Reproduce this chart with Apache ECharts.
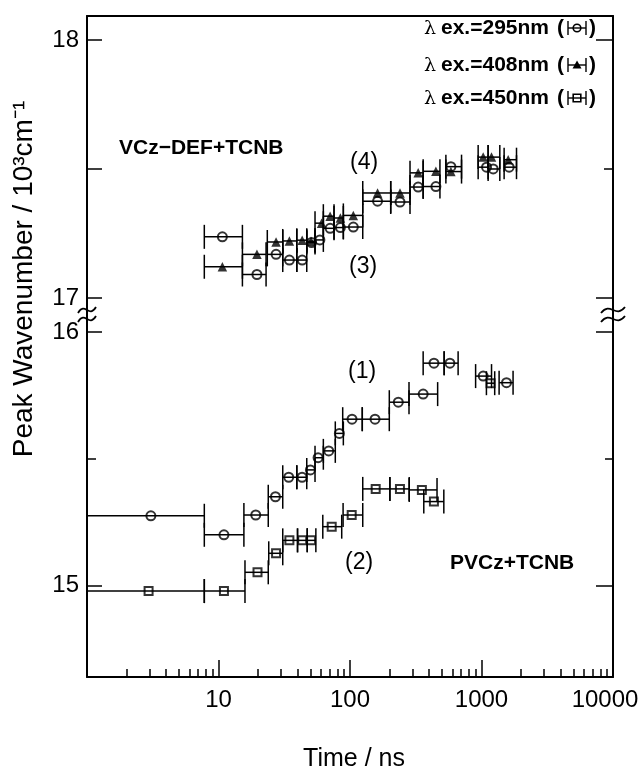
<!DOCTYPE html>
<html><head><meta charset="utf-8">
<script src="https://cdn.jsdelivr.net/npm/echarts@6/dist/echarts.min.js"></script>
<style>html,body{margin:0;padding:0;background:#fff}#c{width:643px;height:769px}</style>
</head><body><div id="c"></div>
<script>
// ---- Data ----
// (1) PVCz+TCNB, λex = 295 nm (circles)
const s1Time     = [3.06, 11.0, 19.2, 27.1, 34.2, 43.2, 50.0, 57.2, 68.9, 83.0, 103.6, 155, 233, 360, 435, 575, 1030, 1549];
const s1Value    = [15.275, 15.200, 15.278, 15.350, 15.427, 15.427, 15.456, 15.504, 15.531, 15.600, 15.656, 15.656, 15.723, 15.755, 15.877, 15.877, 15.826, 15.800];
const s1WinStart = [1, 7.8, 15.6, 23.9, 30.8, 39.4, 46.9, 54.2, 62.7, 77.3, 88, 124, 199, 281, 360, 520, 902, 1361];
const s1WinEnd   = [7.8, 15.6, 23.9, 30.8, 39.4, 46.9, 54.2, 62.7, 77.3, 89, 124, 199, 281, 464, 520, 664, 1192, 1738];
// (2) PVCz+TCNB, λex = 450 nm (squares)
const s2Time     = [2.94, 11.0, 19.8, 27.4, 34.6, 43.3, 50.6, 72.6, 103, 156.8, 239.8, 352, 434.7, 1172];
const s2Value    = [14.978, 14.978, 15.052, 15.127, 15.178, 15.178, 15.178, 15.232, 15.278, 15.381, 15.381, 15.377, 15.331, 15.798];
const s2WinStart = [1, 7.8, 15.9, 24.1, 30.8, 39.9, 47.3, 62.1, 88.6, 125, 201, 282, 364, 1090];
const s2WinEnd   = [7.8, 15.9, 23.9, 30.8, 39.9, 47.3, 55.0, 86.5, 125, 201, 282, 459, 517, 1260];
// (3) VCz-DEF+TCNB, λex = 295 nm (circles)
const s3Time     = [10.7, 19.6, 27.4, 34.6, 43.3, 51, 59, 70.6, 84.5, 106, 162, 240, 330, 450, 585, 1092, 1227, 1623];
const s3Value    = [17.237, 17.091, 17.169, 17.147, 17.147, 17.215, 17.225, 17.270, 17.273, 17.275, 17.375, 17.372, 17.430, 17.432, 17.509, 17.507, 17.500, 17.507];
const s3WinStart = [7.8, 15.2, 23.5, 30.8, 39.4, 46.9, 54.2, 62.7, 75.6, 89, 125, 204, 286, 360, 536, 943, 1123, 1486];
const s3WinEnd   = [15.2, 23.0, 30.8, 39.4, 46.9, 54.2, 62.7, 75.6, 89, 125, 204, 286, 360, 483, 705, 1123, 1378, 1846];
// (4) VCz-DEF+TCNB, λex = 408 nm (triangles)
const s4Time     = [10.7, 19.6, 27.4, 34.6, 43.3, 50.5, 60.8, 70.6, 84.5, 106, 162, 240, 330, 450, 585, 1030, 1192, 1595];
const s4Value    = [17.121, 17.169, 17.217, 17.221, 17.224, 17.22, 17.29, 17.317, 17.31, 17.32, 17.407, 17.407, 17.485, 17.491, 17.49, 17.546, 17.546, 17.536];
const s4WinStart = [7.8, 15.2, 23.5, 30.8, 39.4, 46.9, 54.2, 62.7, 75.6, 89, 125, 204, 286, 360, 536, 943, 1123, 1486];
const s4WinEnd   = [15.2, 23.0, 30.8, 39.4, 46.9, 54.2, 62.7, 75.6, 89, 125, 204, 286, 360, 483, 705, 1123, 1378, 1846];

// ---- Axis ticks / labels ----
const xMajorTicks = [1, 10, 100, 1000, 10000];
const xMinorTicks = [2,3,4,5,6,7,8,9, 20,30,40,50,60,70,80,90, 200,300,400,500,600,700,800,900, 2000,3000,4000,5000,6000,7000,8000,9000];
const xTickLabels = [10, 100, 1000, 10000];
const yUpperTicks = [17, 17.5, 18];
const yUpperLabels = [17, 18];
const yLowerMajor = [15, 16];
const yLowerMinor = [15.5];
const legendTexts = ['ex.=295nm', 'ex.=408nm', 'ex.=450nm'];

const FONT = 'Liberation Sans, Arial, sans-serif';
const BLACK = '#000';

const chart = echarts.init(document.getElementById('c'), null, {renderer: 'canvas'});

function winRender(params, api) {
  const s = api.coord([api.value(0), api.value(2)]);
  const e = api.coord([api.value(1), api.value(2)]);
  const h = 12;
  const st = {stroke: BLACK, lineWidth: 1.5};
  return {type: 'group', children: [
    {type: 'line', shape: {x1: s[0], y1: s[1], x2: e[0], y2: e[1]}, style: st},
    {type: 'line', shape: {x1: s[0], y1: s[1] - h, x2: s[0], y2: s[1] + h}, style: st},
    {type: 'line', shape: {x1: e[0], y1: e[1] - h, x2: e[0], y2: e[1] + h}, style: st}
  ]};
}
function winSeries(xi, yi, st, en, val) {
  return {type: 'custom', xAxisIndex: xi, yAxisIndex: yi, renderItem: winRender, silent: true,
    encode: {x: [0, 1], y: 2}, data: val.map((v, i) => [st[i], en[i], v]), z: 2};
}
function markSeries(xi, yi, time, val, symbol, filled, size) {
  return {type: 'scatter', xAxisIndex: xi, yAxisIndex: yi, symbol: symbol, symbolSize: size, silent: true,
    itemStyle: filled ? {color: BLACK} : {color: 'rgba(0,0,0,0)', borderColor: BLACK, borderWidth: 2},
    data: time.map((t, i) => [t, val[i]]), z: 3};
}

const axLine = {show: true, onZero: false, lineStyle: {color: BLACK, width: 2}};
const tickStyle = {color: BLACK, width: 1.5};
const upperMin = 16.934, upperMax = 18.093, lowerMin = 14.639, lowerMax = 16.067;

function yAx(grid, pos, min, max, ticks, len, labels, showLine) {
  return {gridIndex: grid, type: 'value', position: pos, min: min, max: max,
    axisLine: showLine ? axLine : {show: false, onZero: false},
    axisTick: {show: true, inside: true, length: len, customValues: ticks, lineStyle: tickStyle},
    axisLabel: labels ? {show: true, customValues: labels, fontSize: 24, fontFamily: FONT, color: BLACK, margin: 8} : {show: false},
    splitLine: {show: false}};
}

const option = {
  animation: false,
  backgroundColor: '#fff',
  grid: [
    {left: 87, right: 30, top: 16, height: 299, outerBoundsMode: 'none', containLabel: false},
    {left: 87, right: 30, top: 315, bottom: 92, outerBoundsMode: 'none', containLabel: false}
  ],
  xAxis: [
    {gridIndex: 0, type: 'log', logBase: 10, min: 1, max: 10000, position: 'top', axisLine: axLine,
      axisTick: {show: false}, axisLabel: {show: false}, splitLine: {show: false}},
    {gridIndex: 1, type: 'log', logBase: 10, min: 1, max: 10000, position: 'bottom', axisLine: axLine,
      axisTick: {show: true, inside: true, length: 17, customValues: xMajorTicks, lineStyle: tickStyle},
      axisLabel: {show: true, customValues: xTickLabels, fontSize: 24, fontFamily: FONT, color: BLACK, margin: 11,
        formatter: v => (Math.round(v) === 10000 ? '{last|10000}' : String(Math.round(v))),
        rich: {last: {fontSize: 24, fontFamily: FONT, color: BLACK, padding: [0, 16, 0, 0]}}},
      splitLine: {show: false},
      name: 'Time / ns', nameLocation: 'middle', nameGap: 70,
      nameTextStyle: {fontSize: 25, fontFamily: FONT, color: BLACK, padding: [0, 0, 0, 8]}},
    {gridIndex: 1, type: 'log', logBase: 10, min: 1, max: 10000, position: 'bottom', axisLine: {show: false, onZero: false},
      axisTick: {show: true, inside: true, length: 8, customValues: xMinorTicks, lineStyle: tickStyle},
      axisLabel: {show: false}, splitLine: {show: false}}
  ],
  yAxis: [
    yAx(0, 'left', upperMin, upperMax, yUpperTicks, 15, yUpperLabels, true),   // 0
    yAx(0, 'right', upperMin, upperMax, yUpperLabels, 17, null, true),         // 1
    yAx(0, 'right', upperMin, upperMax, [17.5], 9, null, false),               // 2
    yAx(1, 'left', lowerMin, lowerMax, yLowerMajor, 15, yLowerMajor, true),    // 3
    yAx(1, 'left', lowerMin, lowerMax, yLowerMinor, 9, null, false),           // 4
    yAx(1, 'right', lowerMin, lowerMax, yLowerMajor, 17, null, true),          // 5
    yAx(1, 'right', lowerMin, lowerMax, yLowerMinor, 8, null, false)           // 6
  ],
  series: [
    winSeries(1, 3, s1WinStart, s1WinEnd, s1Value),
    winSeries(1, 3, s2WinStart, s2WinEnd, s2Value),
    winSeries(0, 0, s3WinStart, s3WinEnd, s3Value),
    winSeries(0, 0, s4WinStart, s4WinEnd, s4Value),
    markSeries(1, 3, s1Time, s1Value, 'circle', false, 9),
    markSeries(1, 3, s2Time, s2Value, 'rect', false, 8),
    markSeries(0, 0, s3Time, s3Value, 'circle', false, 9),
    markSeries(0, 0, s4Time, s4Value, 'triangle', true, 9.5)
  ]
};
chart.setOption(option);

// ---- decorations: titles, annotations, legend, axis-break marks ----
const g = [];
function txt(x, y, text, size, bold, align, extra) {
  g.push(Object.assign({type: 'text', x: x, y: y, silent: true, z: 10,
    style: {text: text, fontSize: size, fontWeight: bold ? 'bold' : 'normal', fontFamily: FONT, fill: BLACK,
      align: align || 'left', verticalAlign: 'middle'}}, extra || {}));
}
// y-axis title
txt(24, 279, 'Peak Wavenumber / 10³cm⁻¹', 28, false, 'center', {rotation: Math.PI / 2});
// sample labels
txt(119, 148, 'VCz\u2212DEF+TCNB', 21, true);
txt(450, 563, 'PVCz+TCNB', 21, true);
txt(350, 163, '(4)', 23, false);
txt(349, 267, '(3)', 23, false);
txt(348, 372, '(1)', 23, false);
txt(345, 563, '(2)', 23, false);
// legend
const legY = [28, 65, 98];
const ls = {stroke: BLACK, lineWidth: 1.4, fill: null};
legendTexts.forEach((t, i) => {
  const y = legY[i];
  g.push({type: 'text', x: 424, y: y + 1, silent: true, z: 10,
    style: {text: 'λ', fontSize: 19, fontFamily: 'DejaVu Serif, serif', fill: BLACK, verticalAlign: 'middle'}});
  txt(441, y, t, 21, true);
  txt(557, y, '(', 21, true);
  txt(589, y, ')', 21, true);
  const cx = 577;
  g.push({type: 'line', silent: true, z: 10, shape: {x1: 568, y1: y - 7, x2: 568, y2: y + 7}, style: ls});
  g.push({type: 'line', silent: true, z: 10, shape: {x1: 586, y1: y - 7, x2: 586, y2: y + 7}, style: ls});
  g.push({type: 'line', silent: true, z: 10, shape: {x1: 568, y1: y, x2: 586, y2: y}, style: ls});
  if (i === 0) g.push({type: 'circle', silent: true, z: 11, shape: {cx: cx, cy: y, r: 3.8}, style: {stroke: BLACK, lineWidth: 1.6, fill: null}});
  if (i === 1) g.push({type: 'polygon', silent: true, z: 11, shape: {points: [[cx, y - 4.5], [cx - 4.5, y + 3.5], [cx + 4.5, y + 3.5]]}, style: {fill: BLACK}});
  if (i === 2) g.push({type: 'rect', silent: true, z: 11, shape: {x: cx - 3.8, y: y - 3.8, width: 7.6, height: 7.6}, style: {stroke: BLACK, lineWidth: 1.6, fill: null}});
});
// axis break marks
const pL = chart.convertToPixel({gridIndex: 1}, [1, lowerMax]);
const pR = chart.convertToPixel({gridIndex: 1}, [10000, lowerMax]);
[[pL[0], pL[1], 9], [pR[0], pR[1], 12]].forEach(([x, y, w]) => {
  [-5, 4].forEach(dy => {
    const yy = y + dy;
    g.push({type: 'bezierCurve', silent: true, z: 12,
      shape: {x1: x - w, y1: yy + 3, x2: x + w, y2: yy - 3, cpx1: x - w * 0.2, cpy1: yy - 9, cpx2: x + w * 0.2, cpy2: yy + 9},
      style: {stroke: BLACK, lineWidth: 1.8, fill: null}});
  });
});
chart.setOption({graphic: g});
</script>
</body></html>
